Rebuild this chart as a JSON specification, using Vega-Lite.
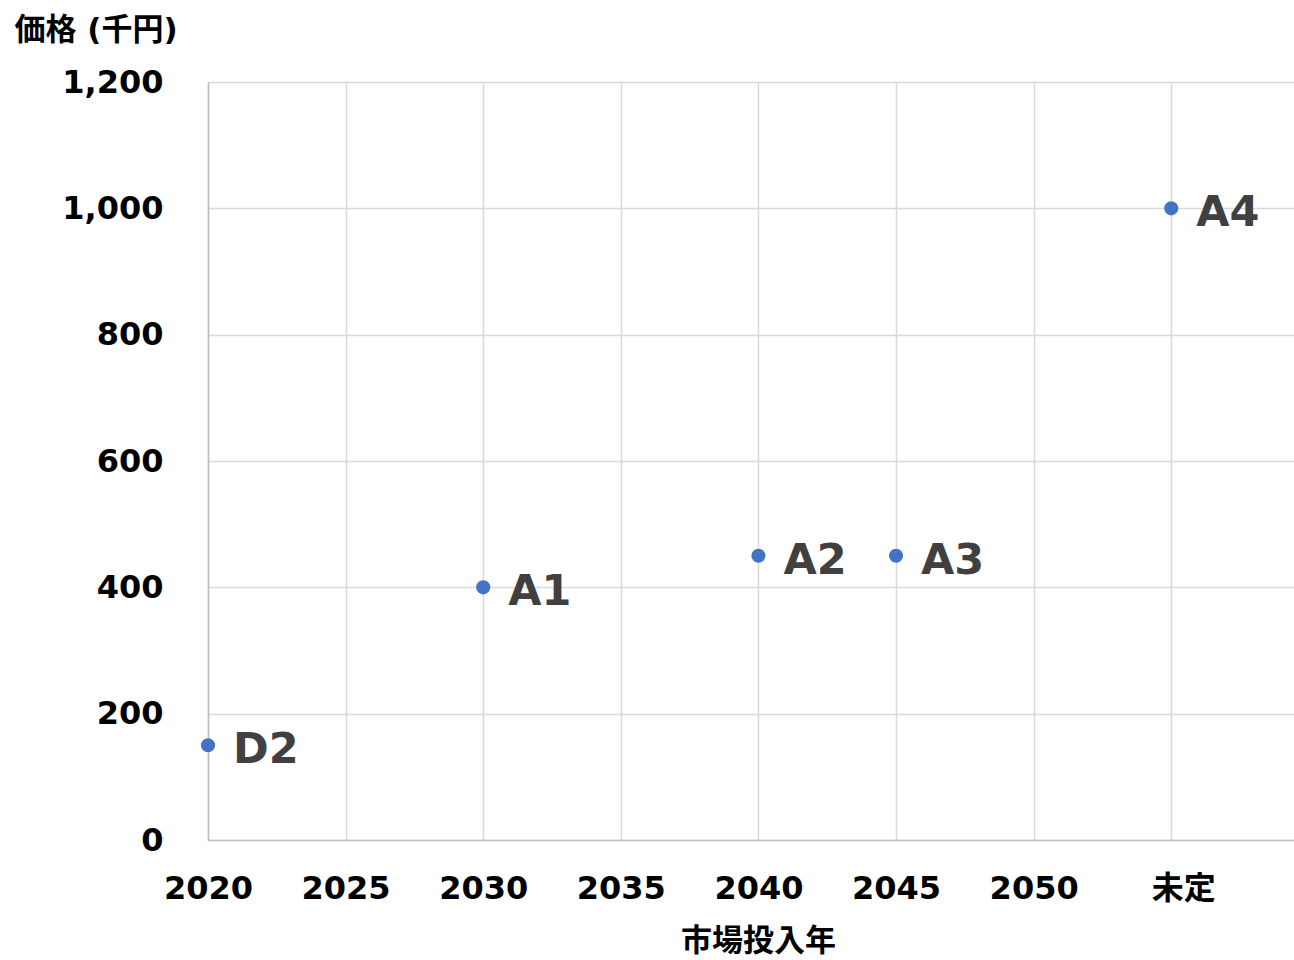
{
  "$schema": "https://vega.github.io/schema/vega-lite/v6.json",
  "autosize": "none",
  "width": 1086,
  "height": 758,
  "padding": {"left": 208, "top": 82, "right": 0, "bottom": 120},
  "background": "white",
  "config": {
    "view": {"stroke": null},
    "font": "DejaVu Sans, Noto Sans CJK JP"
  },
  "data": {
    "values": [
      {"name": "D2", "year": 2020, "price": 150},
      {"name": "A1", "year": 2030, "price": 400},
      {"name": "A2", "year": 2040, "price": 450},
      {"name": "A3", "year": 2045, "price": 450},
      {"name": "A4", "year": 2055, "price": 1000}
    ]
  },
  "encoding": {
    "x": {
      "field": "year",
      "type": "quantitative",
      "scale": {"domain": [2020, 2059.46], "nice": false, "zero": false},
      "axis": {
        "values": [2020, 2025, 2030, 2035, 2040, 2045, 2050, 2055],
        "labelExpr": "datum.value == 2055 ? '未定' : datum.value",
        "labelOffset": {"expr": "datum.value == 2055 ? 12 : 0"},
        "labelFont": "DejaVu Sans, Noto Sans CJK JP",
        "labelFontSize": 32,
        "labelFontWeight": "bold",
        "labelColor": "#000000",
        "labelPadding": 58,
        "labelBaseline": "alphabetic",
        "labelFlush": false,
        "labelOverlap": false,
        "ticks": false,
        "domainColor": "#bfbfbf",
        "domainWidth": 1.5,
        "gridColor": "#d9d9d9",
        "gridWidth": 1.5,
        "title": "市場投入年",
        "titleFont": "Noto Sans CJK JP",
        "titleFontSize": 31,
        "titleFontWeight": "bold",
        "titleColor": "#000000",
        "titlePadding": 22,
        "titleX": 550,
        "titleAlign": "center"
      }
    },
    "y": {
      "field": "price",
      "type": "quantitative",
      "scale": {"domain": [0, 1200], "nice": false},
      "axis": {
        "values": [0, 200, 400, 600, 800, 1000, 1200],
        "format": ",d",
        "labelFont": "DejaVu Sans",
        "labelFontSize": 32,
        "labelFontWeight": "bold",
        "labelColor": "#000000",
        "labelPadding": 45,
        "labelFlush": false,
        "labelOverlap": false,
        "ticks": false,
        "domainColor": "#bfbfbf",
        "domainWidth": 1.5,
        "gridColor": "#d9d9d9",
        "gridWidth": 1.5,
        "title": "価格 (千円)",
        "titleFont": "DejaVu Sans, Noto Sans CJK JP",
        "titleFontSize": 31,
        "titleFontWeight": "bold",
        "titleColor": "#000000",
        "titleAngle": 0,
        "titleAlign": "left",
        "titleBaseline": "alphabetic",
        "titleX": -194,
        "titleY": -43
      }
    }
  },
  "layer": [
    {
      "mark": {"type": "point", "filled": true, "opacity": 1, "size": 200, "color": "#4472C4"}
    },
    {
      "mark": {"type": "text", "align": "left", "baseline": "middle", "dx": 25, "dy": 5, "fontSize": 43, "fontWeight": "bold", "color": "#404040", "font": "DejaVu Sans"},
      "encoding": {"text": {"field": "name"}}
    }
  ]
}
